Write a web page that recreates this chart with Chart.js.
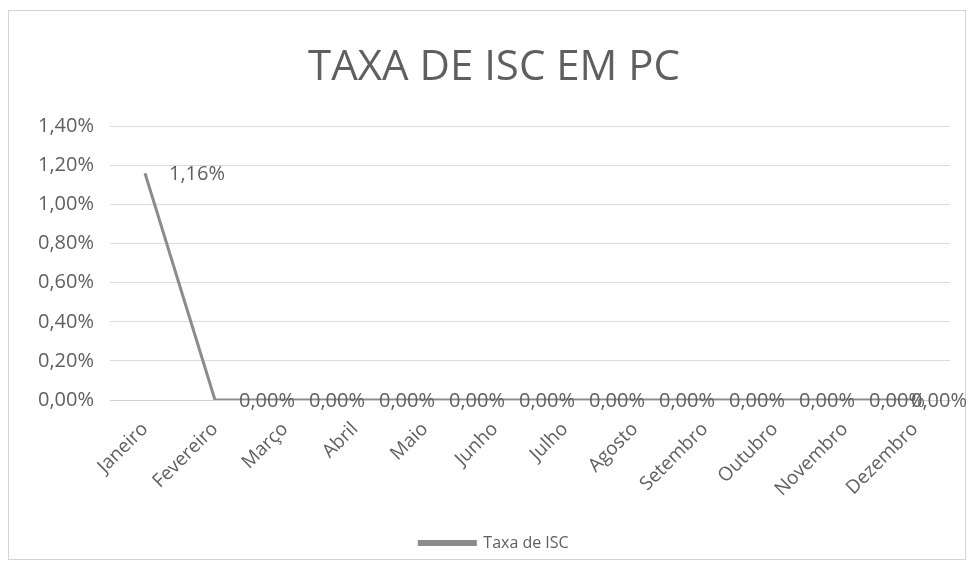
<!DOCTYPE html>
<html>
<head>
<meta charset="utf-8">
<script src="https://cdn.jsdelivr.net/npm/chart.js@4.4.1/dist/chart.umd.min.js"></script>
<style>
  html, body { margin: 0; padding: 0; background: #fff; }
  #caixa {
    position: absolute; left: 8px; top: 10px; width: 958px; height: 550px;
    border: 1px solid #d4d4d4; box-sizing: border-box;
  }
  #wrap { position: absolute; left: 0; top: 0; width: 969px; height: 575px; }
</style>
</head>
<body>
<div id="caixa"></div>
<div id="wrap"><canvas id="graficoISC"></canvas></div>
<script>
// Meses e taxa de ISC (em %)
const meses = ["Janeiro", "Fevereiro", "Março", "Abril", "Maio", "Junho",
  "Julho", "Agosto", "Setembro", "Outubro", "Novembro", "Dezembro"];
const taxaISC = [1.16, 0, 0, 0, 0, 0, 0, 0, 0, 0, 0, 0];
const ticksY = [0, 0.2, 0.4, 0.6, 0.8, 1.0, 1.2, 1.4];

const cinza = "#8c8c8c";
const texto = "#5f5f5f";
const fonte = "'Open Sans', 'Noto Sans', sans-serif";

// formato pt-BR: 1,16%
const pct = v => v.toFixed(2).replace(".", ",") + "%";

// rótulos de dados à direita de cada ponto (o último é puxado para dentro da borda)
const rotulos = {
  id: "rotulos",
  afterDatasetsDraw(chart) {
    const ctx = chart.ctx;
    const meta = chart.getDatasetMeta(0);
    ctx.save();
    ctx.font = "20px " + fonte;
    ctx.fillStyle = texto;
    ctx.textAlign = "left";
    ctx.textBaseline = "middle";
    meta.data.forEach((pt, i) => {
      const s = pct(taxaISC[i]);
      const w = ctx.measureText(s).width;
      const x = Math.min(pt.x + 24, chart.width - 2 - w);
      ctx.fillText(s, x, pt.y + 1);
    });
    ctx.restore();
  }
};

new Chart(document.getElementById("graficoISC"), {
  type: "line",
  data: {
    labels: meses,
    datasets: [{
      label: "Taxa de ISC",
      data: taxaISC,
      borderColor: cinza,
      backgroundColor: cinza,
      borderWidth: 3,
      pointRadius: 0,
      tension: 0
    }]
  },
  options: {
    responsive: true,
    maintainAspectRatio: false,
    animation: false,
    layout: { autoPadding: false, padding: { left: 38, right: 19, top: 43, bottom: 14 } },
    scales: {
      x: {
        offset: true,
        grid: { display: false },
        border: { color: "#d0d0d0" },
        afterFit: axis => { axis.height = 111; },
        ticks: {
          color: texto,
          font: { family: fonte, size: 19 },
          minRotation: 45,
          maxRotation: 45,
          padding: 10
        }
      },
      y: {
        min: 0,
        max: 1.4,
        afterBuildTicks: axis => { axis.ticks = ticksY.map(v => ({ value: v })); },
        afterFit: axis => { axis.width = 72; },
        grid: { color: "#dcdcdc", lineWidth: 1, drawTicks: false },
        border: { display: false },
        ticks: {
          color: texto,
          font: { family: fonte, size: 20 },
          padding: 16,
          callback: v => pct(v)
        }
      }
    },
    plugins: {
      title: {
        display: true,
        text: "TAXA DE ISC EM PC",
        color: texto,
        font: { family: fonte, size: 42, weight: "normal" },
        padding: { top: 0, bottom: 33 }
      },
      legend: {
        position: "bottom",
        labels: {
          color: texto,
          font: { family: fonte, size: 16 },
          boxWidth: 56,
          boxHeight: 3,
          padding: 24
        }
      },
      tooltip: { enabled: false }
    }
  },
  plugins: [rotulos]
});
</script>
</body>
</html>
